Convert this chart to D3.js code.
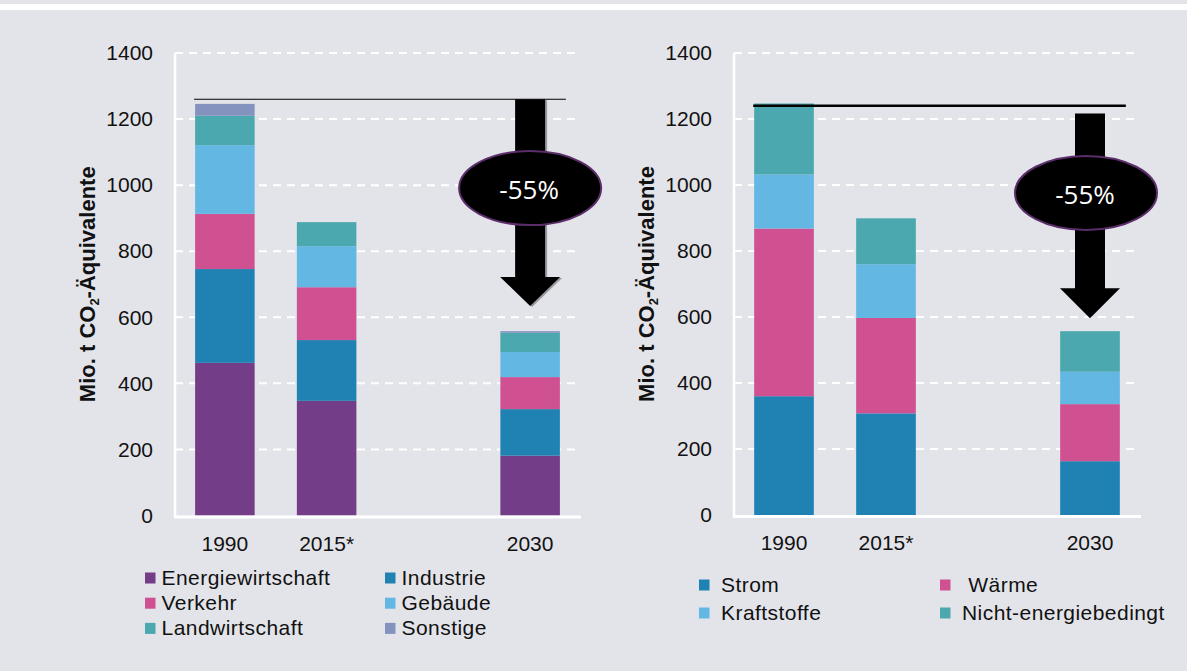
<!DOCTYPE html>
<html lang="de">
<head>
<meta charset="utf-8">
<title>Treibhausgasemissionen 1990, 2015 und Ziel 2030</title>
<script src="https://cdn.jsdelivr.net/npm/d3@7"></script>
<style>
  html, body { margin: 0; padding: 0; background: #e3e4e9; }
  svg { display: block; }
  text { font-family: "Liberation Sans", Arial, sans-serif; fill: #111; }
</style>
</head>
<body>
<svg id="chart" width="1187" height="671"></svg>
<script>
// Years on the category axis (the blank slot keeps the gap before 2030)
const yearSlots = ["1990", "2015*", " ", "2030"];
const dataYears = ["1990", "2015*", "2030"];
const yTicks = [0, 200, 400, 600, 800, 1000, 1200, 1400];

// Emissions by sector, Mio. t CO2-Äquivalente
const sectorNames = ["Energiewirtschaft", "Industrie", "Verkehr", "Gebäude", "Landwirtschaft", "Sonstige"];
const energiewirtschaft = [462, 347, 181];
const industrie        = [284, 184, 141];
const verkehr          = [167, 160, 97];
const gebaeude         = [208, 124, 76];
const landwirtschaft   = [89, 73, 58];
const sonstige         = [36, 0, 5];

// Emissions by energy use, Mio. t CO2-Äquivalente
const useNames = ["Strom", "Wärme", "Kraftstoffe", "Nicht-energiebedingt"];
const strom       = [360, 308, 163];
const waerme      = [508, 289, 173];
const kraftstoffe = [164, 163, 98];
const nichtEnergie = [215, 139, 123];

// Reduction annotation: reference level, arrow extent and label
const reductionLabel = "-55%";
const sectorRef = { line: 1260, arrowTop: 1260, headBase: 722, tip: 634, bubble: 991 };
const useRef    = { line: 1240, arrowTop: 1217, headBase: 687, tip: 596, bubble: 976 };

const palette = {
  purple: "#733d87", blue: "#1f82b3", pink: "#d05192",
  light: "#63b7e3", teal: "#4aa8ae", slate: "#8493be"
};

function rows(names, seriesList) {
  return dataYears.map((yr, i) => {
    const r = { year: yr };
    names.forEach((n, k) => { r[n] = seriesList[k][i]; });
    return r;
  });
}

const panels = [
  {
    names: sectorNames,
    colors: [palette.purple, palette.blue, palette.pink, palette.light, palette.teal, palette.slate],
    table: rows(sectorNames, [energiewirtschaft, industrie, verkehr, gebaeude, landwirtschaft, sonstige]),
    xRange: [174, 581], yRange: [515.5, 53], gridEnd: 580,
    ref: sectorRef, refWidth: 1.2, shadow: true, bubbleDx: 0,
    legend: { x: [145, 385], y: 578, step: 25.2, gap: 16.5, cols: 2 }
  },
  {
    names: useNames,
    colors: [palette.blue, palette.pink, palette.light, palette.teal],
    table: rows(useNames, [strom, waerme, kraftstoffe, nichtEnergie]),
    xRange: [733, 1141], yRange: [515, 53], gridEnd: 1140,
    ref: useRef, refWidth: 2.6, shadow: false, bubbleDx: -4,
    legend: { x: [699, 940], y: 585, step: 28, gap: 22, cols: 2 }
  }
];

const svg = d3.select("#chart");

// top frame stripe
svg.append("rect").attr("x", 0).attr("y", 4).attr("width", 1187).attr("height", 6).attr("fill", "#ffffff");

panels.forEach(p => {
  const g = svg.append("g");
  const x = d3.scaleBand().domain(yearSlots).range(p.xRange).paddingInner(0.415).paddingOuter(0.2075);
  const y = d3.scaleLinear().domain([0, 1400]).range(p.yRange);
  const axisX = p.xRange[0] + 1;

  // dashed gridlines
  g.append("g").selectAll("line").data(yTicks.filter(t => t > 0)).join("line")
    .attr("x1", axisX).attr("x2", p.gridEnd)
    .attr("y1", d => y(d)).attr("y2", d => y(d))
    .attr("stroke", "#ffffff").attr("stroke-width", 2).attr("stroke-dasharray", "8,6");

  // stacked bars
  const stack = d3.stack().keys(p.names)(p.table);
  g.append("g").selectAll("g").data(stack).join("g")
    .attr("fill", (d, i) => p.colors[i])
    .selectAll("rect").data(d => d).join("rect")
    .attr("x", d => x(d.data.year))
    .attr("width", x.bandwidth())
    .attr("y", d => y(d[1]))
    .attr("height", d => y(d[0]) - y(d[1]));

  // axis lines
  g.append("line").attr("x1", axisX).attr("x2", axisX)
    .attr("y1", y(1400)).attr("y2", y(0) + 2.5)
    .attr("stroke", "#ffffff").attr("stroke-width", 2.5);
  g.append("line").attr("x1", axisX - 1).attr("x2", p.xRange[1])
    .attr("y1", y(0) + 1.5).attr("y2", y(0) + 1.5)
    .attr("stroke", "#ffffff").attr("stroke-width", 3);

  // y tick labels
  const yAxis = d3.axisLeft(y).tickValues(yTicks).tickSize(0).tickPadding(22).tickFormat(d3.format("d"));
  const ya = g.append("g").attr("transform", `translate(${axisX},0)`).call(yAxis);
  ya.select(".domain").remove();
  ya.selectAll("text").attr("font-size", 21).attr("fill", "#111")
    .attr("font-family", "'Liberation Sans', Arial, sans-serif");

  // x tick labels
  const xAxis = d3.axisBottom(x).tickSize(0).tickPadding(0);
  const xa = g.append("g").attr("transform", `translate(0,${y(0)})`).call(xAxis);
  xa.select(".domain").remove();
  xa.selectAll("text").attr("font-size", 21).attr("fill", "#111")
    .attr("font-family", "'Liberation Sans', Arial, sans-serif")
    .attr("dy", null).attr("y", 35);

  // y axis title
  const t = g.append("text")
    .attr("transform", `translate(${axisX - 80},${y(700)}) rotate(-90)`)
    .attr("text-anchor", "middle")
    .attr("font-size", 22).attr("font-weight", "bold");
  t.append("tspan").text("Mio. t CO");
  t.append("tspan").attr("font-size", 13).attr("baseline-shift", "-4").text("2");
  t.append("tspan").text("-Äquivalente");

  // reference level line
  const first = x(dataYears[0]);
  const last = x(dataYears[dataYears.length - 1]) + x.bandwidth();
  g.append("line").attr("x1", first - 1).attr("x2", last + 6)
    .attr("y1", y(p.ref.line)).attr("y2", y(p.ref.line))
    .attr("stroke", "#000").attr("stroke-width", p.refWidth);

  // reduction arrow
  const cx = x("2030") + x.bandwidth() / 2;
  const shaft = 15, head = 30;
  const arrowPath = d3.path();
  arrowPath.moveTo(cx - shaft, y(p.ref.arrowTop));
  arrowPath.lineTo(cx + shaft, y(p.ref.arrowTop));
  arrowPath.lineTo(cx + shaft, y(p.ref.headBase));
  arrowPath.lineTo(cx + head, y(p.ref.headBase));
  arrowPath.lineTo(cx, y(p.ref.tip));
  arrowPath.lineTo(cx - head, y(p.ref.headBase));
  arrowPath.lineTo(cx - shaft, y(p.ref.headBase));
  arrowPath.closePath();
  if (p.shadow) {
    g.append("path").attr("d", arrowPath.toString())
      .attr("transform", "translate(2,1)").attr("fill", "#9a9a9e");
  }
  g.append("path").attr("d", arrowPath.toString()).attr("fill", "#000");

  // percentage bubble
  g.append("ellipse").attr("cx", cx + p.bubbleDx).attr("cy", y(p.ref.bubble))
    .attr("rx", 71).attr("ry", 37)
    .attr("fill", "#000").attr("stroke", "#5b2d6b").attr("stroke-width", 2);
  g.append("text").attr("x", cx + p.bubbleDx - 1).attr("y", y(p.ref.bubble) + 11)
    .attr("text-anchor", "middle")
    .style("font-family", "'Open Sans', sans-serif").style("fill", "#ffffff")
    .attr("font-size", 26).text(reductionLabel);

  // legend
  const lg = g.append("g");
  p.names.forEach((n, i) => {
    const col = i % p.legend.cols, row = Math.floor(i / p.legend.cols);
    const lx = p.legend.x[col], ly = p.legend.y + row * p.legend.step;
    lg.append("rect").attr("x", lx).attr("y", ly - 5.5).attr("width", 10.5).attr("height", 11)
      .attr("fill", p.colors[i]);
    lg.append("text").attr("x", lx + p.legend.gap).attr("y", ly + 6.5)
      .attr("font-size", 21).attr("letter-spacing", "0.45px")
      .text(n === "Wärme" ? "\u00a0" + n : n);
  });
});
</script>
</body>
</html>
